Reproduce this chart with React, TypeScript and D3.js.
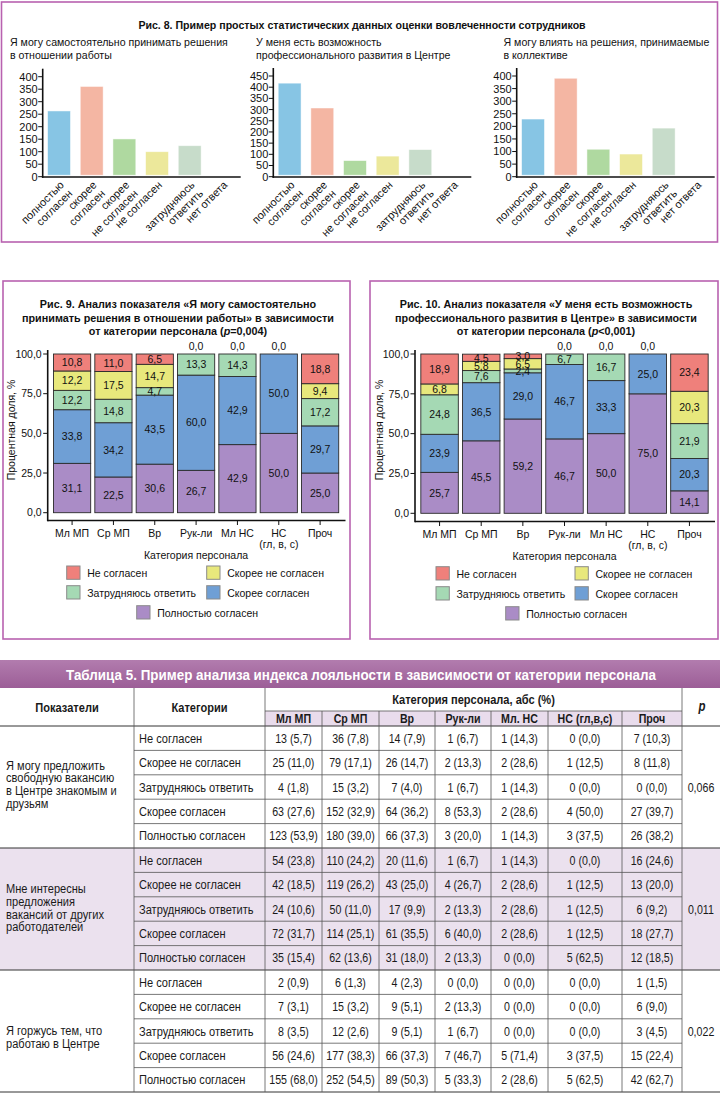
import React from 'react';
import * as d3 from 'd3';

const FONT = "'Liberation Sans', Arial, Helvetica, sans-serif";
const BORDER = '#b862b0';

// ---------- Fig. 8 ----------
const fig8Title = 'Рис. 8. Пример простых статистических данных оценки вовлеченности сотрудников';
const fig8Categories = [
  ['полностью', 'согласен'],
  ['скорее', 'согласен'],
  ['скорее', 'не согласен'],
  ['не согласен'],
  ['затрудняюсь', 'ответить'],
  ['нет ответа'],
];
const fig8Colors = ['#87c5e4', '#f4b6a3', '#afd9a0', '#ece89b', '#c7dcca', '#cccccc'];
const fig8Subtitle1 = ['Я могу самостоятельно принимать решения', 'в отношении работы'];
const fig8Subtitle2 = ['У меня есть возможность', 'профессионального развития в Центре'];
const fig8Subtitle3 = ['Я могу влиять на решения, принимаемые', 'в коллективе'];
const fig8Values1 = [263, 361, 151, 100, 124, 0];
const fig8Values2 = [418, 307, 72, 92, 121, 0];
const fig8Values3 = [229, 391, 109, 90, 193, 0];
const fig8Ticks1 = [0, 50, 100, 150, 200, 250, 300, 350, 400];
const fig8Ticks2 = [0, 50, 100, 150, 200, 250, 300, 350, 400, 450];
const fig8Ticks3 = [0, 50, 100, 150, 200, 250, 300, 350, 400];

// ---------- Fig. 9 / 10 ----------
const staffCategories = [['Мл МП'], ['Ср МП'], ['Вр'], ['Рук-ли'], ['Мл НС'], ['НС', '(гл, в, с)'], ['Проч']];
const responseKeys = ['full', 'rather', 'hard', 'ratherNot', 'not'];
const responseNames = ['Полностью согласен', 'Скорее согласен', 'Затрудняюсь ответить', 'Скорее не согласен', 'Не согласен'];
const responseColors = ['#aa8cc6', '#6f9fd5', '#a5d9b4', '#e8e87c', '#ef807b'];
const yTicksPct = [0, 25, 50, 75, 100];

const fig9Full = [31.1, 22.5, 30.6, 26.7, 42.9, 50.0, 25.0];
const fig9Rather = [33.8, 34.2, 43.5, 60.0, 42.9, 50.0, 29.7];
const fig9Hard = [12.2, 14.8, 4.7, 13.3, 14.3, 0, 17.2];
const fig9RatherNot = [12.2, 17.5, 14.7, 0, 0, 0, 9.4];
const fig9Not = [10.8, 11.0, 6.5, 0, 0, 0, 18.8];

const fig10Full = [25.7, 45.5, 59.2, 46.7, 50.0, 75.0, 14.1];
const fig10Rather = [23.9, 36.5, 29.0, 46.7, 33.3, 25.0, 20.3];
const fig10Hard = [24.8, 7.6, 2.4, 6.7, 16.7, 0, 21.9];
const fig10RatherNot = [6.8, 5.8, 6.5, 0, 0, 0, 20.3];
const fig10Not = [18.9, 4.5, 3.0, 0, 0, 0, 23.4];

// ---------- Table 5 ----------
const tableTitle = 'Таблица 5. Пример анализа индекса лояльности в зависимости от категории персонала';
const tableCols = ['Мл МП', 'Ср МП', 'Вр', 'Рук-ли', 'Мл. НС', 'НС (гл,в,с)', 'Проч'];
const tableResponses = ['Не согласен', 'Скорее не согласен', 'Затрудняюсь ответить', 'Скорее согласен', 'Полностью согласен'];
const group1Label = ['Я могу предложить', 'свободную вакансию', 'в Центре знакомым и', 'друзьям'];
const group2Label = ['Мне интересны', 'предложения', 'вакансий от других', 'работодателей'];
const group3Label = ['Я горжусь тем, что', 'работаю в Центре'];
const group1Counts = [[13, 36, 14, 1, 1, 0, 7], [25, 79, 26, 2, 2, 1, 8], [4, 15, 7, 1, 1, 0, 0], [63, 152, 64, 8, 2, 4, 27], [123, 180, 66, 3, 1, 3, 26]];
const group1Pct = [[5.7, 7.8, 7.9, 6.7, 14.3, 0.0, 10.3], [11.0, 17.1, 14.7, 13.3, 28.6, 12.5, 11.8], [1.8, 3.2, 4.0, 6.7, 14.3, 0.0, 0.0], [27.6, 32.9, 36.2, 53.3, 28.6, 50.0, 39.7], [53.9, 39.0, 37.3, 20.0, 14.3, 37.5, 38.2]];
const group2Counts = [[54, 110, 20, 1, 1, 0, 16], [42, 119, 43, 4, 2, 1, 13], [24, 50, 17, 2, 2, 1, 6], [72, 114, 61, 6, 2, 1, 18], [35, 62, 31, 2, 0, 5, 12]];
const group2Pct = [[23.8, 24.2, 11.6, 6.7, 14.3, 0.0, 24.6], [18.5, 26.2, 25.0, 26.7, 28.6, 12.5, 20.0], [10.6, 11.0, 9.9, 13.3, 28.6, 12.5, 9.2], [31.7, 25.1, 35.5, 40.0, 28.6, 12.5, 27.7], [15.4, 13.6, 18.0, 13.3, 0.0, 62.5, 18.5]];
const group3Counts = [[2, 6, 4, 0, 0, 0, 1], [7, 15, 9, 2, 0, 0, 6], [8, 12, 9, 1, 0, 0, 3], [56, 177, 66, 7, 5, 3, 15], [155, 252, 89, 5, 2, 5, 42]];
const group3Pct = [[0.9, 1.3, 2.3, 0.0, 0.0, 0.0, 1.5], [3.1, 3.2, 5.1, 13.3, 0.0, 0.0, 9.0], [3.5, 2.6, 5.1, 6.7, 0.0, 0.0, 4.5], [24.6, 38.3, 37.3, 46.7, 71.4, 37.5, 22.4], [68.0, 54.5, 50.3, 33.3, 28.6, 62.5, 62.7]];
const pValues = ['0,066', '0,011', '0,022'];

const fmt = (v: number) => v.toFixed(1).replace('.', ',');

// condensed text: regular sans scaled horizontally
function CText({ x, y, anchor = 'start', size = 13, weight = 'normal', italic = false, fill = '#1a1a1a', sx = 0.82, children, textLength }: any) {
  return (
    <text
      transform={`translate(${x},${y}) scale(${sx},1)`}
      textAnchor={anchor}
      fontSize={size}
      fontWeight={weight}
      fontStyle={italic ? 'italic' : 'normal'}
      fill={fill}
      fontFamily={FONT}
      textLength={textLength}
      lengthAdjust={textLength ? 'spacingAndGlyphs' : undefined}
    >
      {children}
    </text>
  );
}

function BarChart8({ axisX, ticks, topPx, values, subtitle, subX }: any) {
  const yBase = 176.7;
  const tickMax = ticks[ticks.length - 1];
  const y = d3.scaleLinear().domain([0, tickMax]).range([yBase, topPx]);
  const x = d3.scaleBand<number>().domain(d3.range(values.length)).range([axisX, axisX + 196]).paddingInner(0.3).paddingOuter(0.15);
  return (
    <g fontFamily={FONT} fill="#111">
      {subtitle.map((t: string, i: number) => (
        <text key={i} x={subX} y={45.5 + i * 13} fontSize={10.6}>{t}</text>
      ))}
      {values.map((v: number, i: number) =>
        v > 0 ? (
          <rect key={i} x={x(i)} y={y(v)} width={x.bandwidth()} height={yBase - 1.5 - y(v)} fill={fig8Colors[i]} stroke="#ffffff" strokeOpacity={0.6} strokeWidth={0.8} />
        ) : null
      )}
      <line x1={axisX} x2={axisX} y1={topPx - 8} y2={177.8} stroke="#111" strokeWidth={1.6} />
      <line x1={axisX - 0.8} x2={axisX + 198} y1={177} y2={177} stroke="#111" strokeWidth={1.6} />
      {ticks.map((t: number) => (
        <g key={t}>
          <line x1={axisX - 4.5} x2={axisX} y1={y(t)} y2={y(t)} stroke="#111" strokeWidth={1} />
          <text x={axisX - 5} y={y(t)} dy="0.36em" textAnchor="end" fontSize={11}>{t}</text>
        </g>
      ))}
      {fig8Categories.map((lines, i) => {
        const cx = (x(i) as number) + x.bandwidth() / 2;
        return (
          <text key={i} transform={`translate(${cx},${180}) rotate(-45)`} textAnchor="end" fontSize={11}>
            {lines.map((l, j) => (
              <tspan key={j} x={0} y={8 + j * 12}>{l}</tspan>
            ))}
          </text>
        );
      })}
    </g>
  );
}

function StackedChart({ axisX, axisEnd, y0, y100, xAxisY, series, titleLines, titleCX, yTitleX, legendXs, legendYs }: any) {
  const x = d3.scaleBand<number>().domain(d3.range(7)).range([axisX, axisEnd]).paddingInner(0.1).paddingOuter(0.14);
  const y = d3.scaleLinear().domain([0, 100]).range([y0, y100]);
  const rows = staffCategories.map((_, i) => {
    const r: any = { i };
    responseKeys.forEach((k, j) => (r[k] = series[j][i]));
    return r;
  });
  const stacked = d3.stack<any>().keys(responseKeys)(rows);
  const total = rows.map((r: any) => responseKeys.reduce((s, k) => s + r[k], 0));
  const bw = x.bandwidth();
  const plotCX = (axisX + axisEnd) / 2;
  return (
    <g fontFamily={FONT} fill="#111">
      {titleLines.map((l: any, i: number) => (
        <text key={i} x={titleCX} y={308 + i * 13.5} textAnchor="middle" fontSize={10.8} fontWeight="bold">{l}</text>
      ))}
      {stacked.map((layer, li) =>
        layer.map((d, i) => {
          const v = d[1] - d[0];
          if (v <= 0) return null;
          return (
            <rect key={`${li}-${i}`} x={x(i)} y={y(Math.min(d[1], 100))} width={bw} height={y(d[0]) - y(Math.min(d[1], 100))} fill={responseColors[li]} stroke="#2a2a2a" strokeWidth={0.9} />
          );
        })
      )}
      {stacked.map((layer, li) =>
        layer.map((d, i) => {
          const v = d[1] - d[0];
          if (v <= 0) return null;
          return (
            <text key={`t${li}-${i}`} x={(x(i) as number) + bw / 2} y={y((d[0] + Math.min(d[1], 100)) / 2)} dy="0.36em" textAnchor="middle" fontSize={10.5}>
              {fmt(v)}
            </text>
          );
        })
      )}
      {rows.map((r: any, i: number) =>
        r.not === 0 ? (
          <text key={`z${i}`} x={(x(i) as number) + bw / 2} y={y(Math.min(total[i], 100)) - 4} textAnchor="middle" fontSize={10.5}>0,0</text>
        ) : null
      )}
      <line x1={axisX} x2={axisX} y1={y100 - 4} y2={xAxisY + 0.8} stroke="#111" strokeWidth={1.6} />
      <line x1={axisX} x2={axisEnd + 1} y1={xAxisY} y2={xAxisY} stroke="#111" strokeWidth={1.6} />
      {yTicksPct.map((t) => (
        <g key={t}>
          <line x1={axisX - 4.5} x2={axisX} y1={y(t)} y2={y(t)} stroke="#111" strokeWidth={1} />
          <text x={axisX - 6} y={y(t)} dy="0.36em" textAnchor="end" fontSize={10.5}>{fmt(t)}</text>
        </g>
      ))}
      {staffCategories.map((lines, i) => {
        const cx = (x(i) as number) + bw / 2;
        return (
          <g key={`c${i}`}>
            <line x1={cx} x2={cx} y1={xAxisY} y2={xAxisY + 4.5} stroke="#111" strokeWidth={1} />
            <text x={cx} textAnchor="middle" fontSize={10.5}>
              {lines.map((l, j) => (
                <tspan key={j} x={cx} y={xAxisY + 16.5 + j * 11}>{l}</tspan>
              ))}
            </text>
          </g>
        );
      })}
      <text x={plotCX} y={xAxisY + 38.5} textAnchor="middle" fontSize={10.5}>Категория персонала</text>
      <text transform={`translate(${yTitleX},${430}) rotate(-90)`} textAnchor="middle" fontSize={10.5}>Процентная доля, %</text>
      {[4, 3, 2, 1, 0].map((k, idx) => {
        const pos = [
          [legendXs[0], legendYs[0]],
          [legendXs[1], legendYs[0]],
          [legendXs[0], legendYs[1]],
          [legendXs[1], legendYs[1]],
          [legendXs[2], legendYs[2]],
        ][idx];
        return (
          <g key={`l${k}`}>
            <rect x={pos[0]} y={pos[1]} width={13.3} height={13.3} fill={responseColors[k]} stroke="#8a8a8a" strokeWidth={1} />
            <text x={pos[0] + 20.5} y={pos[1] + 11} fontSize={10.5}>{responseNames[k]}</text>
          </g>
        );
      })}
    </g>
  );
}

function Table5() {
  const colEdges = [265, 322, 379, 435, 491, 548, 622, 682];
  const top = 726;
  const rowH = (1092 - 726) / 15;
  const groups = [
    { label: group1Label, counts: group1Counts, pct: group1Pct, p: pValues[0], firstBase: 769.5, shaded: false },
    { label: group2Label, counts: group2Counts, pct: group2Pct, p: pValues[1], firstBase: 893, shaded: true },
    { label: group3Label, counts: group3Counts, pct: group3Pct, p: pValues[2], firstBase: 1035, shaded: false },
  ];
  const lineColor = '#555';
  return (
    <g>
      <defs>
        <linearGradient id="band" x1="0" y1="0" x2="0" y2="1">
          <stop offset="0" stopColor="#b27cae" />
          <stop offset="1" stopColor="#9c5e97" />
        </linearGradient>
      </defs>
      <rect x={0} y={660} width={720} height={28} fill="url(#band)" />
      <CText x={361} y={679.5} anchor="middle" size={15} weight="bold" fill="#fff" sx={0.8} textLength={590 / 0.8}>{tableTitle}</CText>
      {groups.map((g, gi) =>
        g.shaded ? <rect key={`s${gi}`} x={0} y={top + gi * 5 * rowH} width={720} height={5 * rowH} fill="#ebe1ee" /> : null
      )}
      <rect x={265} y={711} width={417} height={15} fill="#e9dcec" />
      {/* header */}
      <CText x={67} y={711.5} anchor="middle" size={13.5} weight="bold">Показатели</CText>
      <CText x={199.5} y={711.5} anchor="middle" size={13.5} weight="bold">Категории</CText>
      <CText x={473.5} y={703.5} anchor="middle" size={13.5} weight="bold">Категория персонала, абс (%)</CText>
      <CText x={702} y={711} anchor="middle" size={14} weight="bold" italic>p</CText>
      {tableCols.map((c, i) => (
        <CText key={c} x={(colEdges[i] + colEdges[i + 1]) / 2} y={722.5} anchor="middle" size={13} weight="bold">{c}</CText>
      ))}
      {/* grid lines */}
      <line x1={265} x2={682} y1={711} y2={711} stroke={lineColor} strokeWidth={0.8} />
      <line x1={0} x2={720} y1={726} y2={726} stroke="#333" strokeWidth={1} />
      {d3.range(1, 15).map((r) => {
        const yy = top + r * rowH;
        const full = r % 5 === 0;
        return <line key={`h${r}`} x1={full ? 0 : 134} x2={full ? 720 : 682} y1={yy} y2={yy} stroke={full ? '#333' : lineColor} strokeWidth={full ? 1 : 0.8} />;
      })}
      <line x1={0} x2={720} y1={1092} y2={1092} stroke="#333" strokeWidth={1} />
      {[134, 265, 682].map((xx) => (
        <line key={`v${xx}`} x1={xx} x2={xx} y1={688} y2={1092} stroke={lineColor} strokeWidth={0.8} />
      ))}
      {colEdges.slice(1, -1).map((xx) => (
        <line key={`vv${xx}`} x1={xx} x2={xx} y1={711} y2={1092} stroke={lineColor} strokeWidth={0.8} />
      ))}
      {/* body */}
      {groups.map((g, gi) => (
        <g key={`g${gi}`}>
          {g.label.map((l, li) => (
            <CText key={li} x={6} y={g.firstBase + li * 12.8} size={13.5}>{l}</CText>
          ))}
          {tableResponses.map((resp, ri) => {
            const rowIndex = gi * 5 + ri;
            const base = top + rowH * (rowIndex + 0.5) + 4.5;
            return (
              <g key={`r${ri}`}>
                <CText x={139} y={base} size={13.5}>{resp}</CText>
                {tableCols.map((_, ci) => (
                  <CText key={ci} x={(colEdges[ci] + colEdges[ci + 1]) / 2} y={base} anchor="middle" size={13}>
                    {`${g.counts[ri][ci]} (${fmt(g.pct[ri][ci])})`}
                  </CText>
                ))}
              </g>
            );
          })}
          <CText x={701} y={top + rowH * (gi * 5 + 2.5) + 4.5} anchor="middle" size={13}>{g.p}</CText>
        </g>
      ))}
    </g>
  );
}

export default function App() {
  return (
    <svg width={720} height={1093} viewBox="0 0 720 1093" style={{ position: 'absolute', left: 0, top: 0, background: '#fff' }}>
      <rect x={0} y={0} width={720} height={1093} fill="#fff" />
      {/* Fig 8 panel */}
      <rect x={1.5} y={2} width={716} height={240} fill="none" stroke={BORDER} strokeWidth={1.6} />
      <text x={362} y={28.5} textAnchor="middle" fontFamily={FONT} fontSize={10.6} fontWeight="bold" fill="#111">{fig8Title}</text>
      <BarChart8 axisX={42.7} ticks={fig8Ticks1} topPx={76.7} values={fig8Values1} subtitle={fig8Subtitle1} subX={10} />
      <BarChart8 axisX={273.3} ticks={fig8Ticks2} topPx={76} values={fig8Values2} subtitle={fig8Subtitle2} subX={256} />
      <BarChart8 axisX={516.7} ticks={fig8Ticks3} topPx={76} values={fig8Values3} subtitle={fig8Subtitle3} subX={503.5} />

      {/* Fig 9 */}
      <rect x={3} y={281} width={347} height={358} fill="none" stroke={BORDER} strokeWidth={1.6} />
      <StackedChart
        axisX={47.7}
        axisEnd={344.5}
        y0={512.7}
        y100={354}
        xAxisY={520.5}
        series={[fig9Full, fig9Rather, fig9Hard, fig9RatherNot, fig9Not]}
        titleLines={[
          'Рис. 9. Анализ показателя «Я могу самостоятельно',
          'принимать решения в отношении работы» в зависимости',
          <>от категории персонала (<tspan fontStyle="italic">p</tspan>=0,004)</>,
        ]}
        titleCX={178}
        yTitleX={15}
        legendXs={[66.7, 206.7, 136.7]}
        legendYs={[566, 585.7, 605.7]}
      />

      {/* Fig 10 */}
      <rect x={370} y={281} width={348} height={358} fill="none" stroke={BORDER} strokeWidth={1.6} />
      <StackedChart
        axisX={415}
        axisEnd={714}
        y0={513.3}
        y100={354}
        xAxisY={521.5}
        series={[fig10Full, fig10Rather, fig10Hard, fig10RatherNot, fig10Not]}
        titleLines={[
          'Рис. 10. Анализ показателя «У меня есть возможность',
          'профессионального развития в Центре» в зависимости',
          <>от категории персонала (<tspan fontStyle="italic">p</tspan>&lt;0,001)</>,
        ]}
        titleCX={546}
        yTitleX={383}
        legendXs={[436, 575, 505.7]}
        legendYs={[566.7, 586.7, 606.7]}
      />

      <Table5 />
    </svg>
  );
}
